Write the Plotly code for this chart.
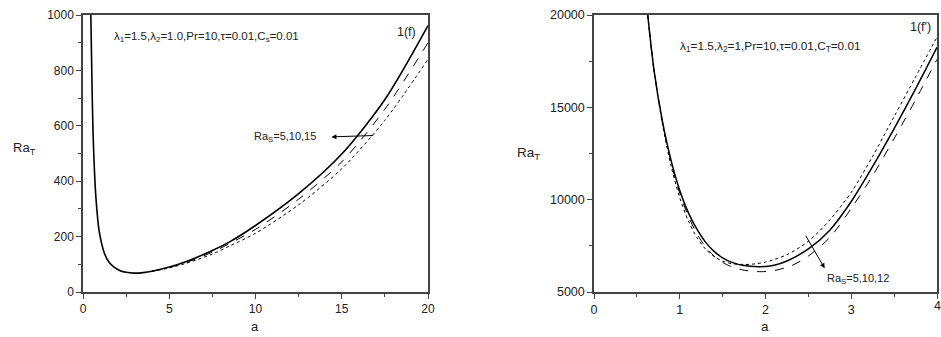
import plotly.graph_objects as go

# ---------------- Left panel data (1(f)) ----------------
a_left_common = [0.44, 0.5, 0.58, 0.75, 0.95, 1.24, 1.5, 1.78, 2.16, 2.5, 2.94, 3.5, 4.0]
ra_left_common = [1050, 830, 580, 340, 215, 140, 108, 91, 77, 71, 68, 70, 75]
a_left_tail = [5.0, 6.0, 7.5, 8.5, 10.0, 12.5, 15.0, 17.5, 20.0]
ra_left_s5 = [90, 110, 150, 181, 240, 355, 498, 695, 962]
ra_left_s10 = [89, 107, 144, 175, 226, 335, 470, 660, 900]
ra_left_s15 = [87, 104, 137, 166, 212, 315, 445, 620, 840]

# ---------------- Right panel data (1(f')) ----------------
a_r_s5 = [0.62, 0.7, 0.8, 0.9, 1.0, 1.1, 1.2, 1.3, 1.4, 1.5, 1.6, 1.75, 1.93, 2.1, 2.25, 2.5, 2.75, 3.0, 3.25, 3.5, 3.75, 4.0]
ra_r_s5 = [20300, 17000, 14200, 12100, 10500, 9300, 8400, 7700, 7200, 6850, 6620, 6430, 6370, 6450, 6680, 7330, 8350, 9900, 11800, 13850, 16000, 18250]
a_r_s10 = [0.62, 0.7, 0.8, 0.9, 1.0, 1.1, 1.2, 1.3, 1.4, 1.5, 1.6, 1.75, 1.95, 2.1, 2.3, 2.5, 2.75, 3.0, 3.25, 3.5, 3.75, 4.0]
ra_r_s10 = [20300, 17000, 14150, 12000, 10350, 9100, 8150, 7450, 6950, 6600, 6380, 6180, 6100, 6160, 6420, 6950, 7950, 9530, 11300, 13310, 15400, 17600]
a_r_s12 = [0.62, 0.7, 0.8, 0.9, 1.0, 1.1, 1.2, 1.3, 1.4, 1.5, 1.6, 1.75, 1.85, 2.0, 2.25, 2.5, 2.75, 3.0, 3.25, 3.5, 3.75, 4.0]
ra_r_s12 = [20300, 17000, 14050, 11800, 10100, 8850, 7950, 7330, 6920, 6670, 6540, 6490, 6510, 6620, 7020, 7750, 8900, 10400, 12350, 14500, 16650, 18800]

left_xticks = [0, 5, 10, 15, 20]
left_yticks = [0, 200, 400, 600, 800, 1000]
right_xticks = [0, 1, 2, 3, 4]
right_xlabels = ["0", "1", "2", "3", "4"]
right_yticks = [5000, 10000, 15000, 20000]

FONT = "Liberation Sans, Arial, sans-serif"
AX = "#444444"

# figure fills the whole window (body margin removed in post_script)
W, H, OFF = 941, 337, 0
def px(x):
    return (x - OFF) / W
def py(y):
    return 1 - (y - OFF) / H

fig = go.Figure()

def add(x, y, dash, width, xa, ya):
    fig.add_trace(go.Scatter(x=x, y=y, mode="lines", xaxis=xa, yaxis=ya,
                             line=dict(color="black", width=width, dash=dash, shape="spline", smoothing=0.8),
                             showlegend=False, hoverinfo="skip"))

add(a_left_common[-1:] + a_left_tail, ra_left_common[-1:] + ra_left_s15, "dot", 1, "x", "y")
add(a_left_common[-1:] + a_left_tail, ra_left_common[-1:] + ra_left_s10, "dash", 1, "x", "y")
add(a_left_common + a_left_tail, ra_left_common + ra_left_s5, "solid", 1.6, "x", "y")

add(a_r_s12, ra_r_s12, "dot", 1, "x2", "y2")
add(a_r_s10, ra_r_s10, "dash", 1, "x2", "y2")
add(a_r_s5, ra_r_s5, "solid", 1.5, "x2", "y2")

def axis(domain, rng, ticks, dtick_minor, anchor, fs, labels=None):
    d = dict(domain=domain, range=rng, tickvals=ticks, ticks="outside", ticklen=5,
             tickwidth=1, tickcolor=AX, showline=True, linecolor=AX, linewidth=1.5,
             mirror=True, showgrid=False, zeroline=False, anchor=anchor, automargin=False,
             ticklabeloverflow="allow",
             tickformat="d", tickfont=dict(family=FONT, size=fs, color="#222222"),
             minor=dict(ticks="outside", ticklen=3, dtick=dtick_minor, tickcolor=AX, showgrid=False))
    if labels is not None:
        d["ticktext"] = labels
    return d

yd = [py(292), py(15)]
fig.update_layout(
    width=W, height=H, margin=dict(l=0, r=0, t=0, b=0, autoexpand=False),
    plot_bgcolor="white", paper_bgcolor="white",
    xaxis=axis([px(83), px(428)], [0, 20], left_xticks, 2.5, "y", 12),
    yaxis=axis(yd, [0, 1000], left_yticks, 100, "x", 12),
    # last label of the right x axis is written as an annotation below (plotly hides it at the div edge)
    xaxis2=axis([px(594), px(937)], [0, 4], right_xticks, 0.5, "y2", 12.5,
                labels=right_xlabels[:-1] + [""]),
    yaxis2=axis(yd, [5000, 20000], right_yticks, 2500, "x2", 12.5),
)

ann = []
def txt(x, y, s, size, xanchor="left"):
    ann.append(dict(x=px(x), y=py(y), xref="paper", yref="paper", text=s, showarrow=False,
                    xanchor=xanchor, yanchor="middle", font=dict(family=FONT, size=size, color="#222222")))

# last tick label of the right x axis
ann.append(dict(x=right_xticks[-1], y=py(306), xref="x2", yref="paper", text=right_xlabels[-1],
                showarrow=False, xanchor="center", yanchor="middle",
                font=dict(family=FONT, size=12.5, color="#222222")))

# axis titles
txt(24, 148, "Ra<sub>T</sub>", 13, "center")
txt(255, 326, "a", 13, "center")
txt(528, 153, "Ra<sub>T</sub>", 13.5, "center")
txt(765, 326, "a", 13.5, "center")

# in-plot labels
txt(112, 37, "λ<sub>1</sub>=1.5,λ<sub>2</sub>=1.0,Pr=10,τ=0.01,C<sub>s</sub>=0.01", 11.5)
txt(418, 32, "1(f)", 12.5, "right")
txt(252, 137, "Ra<sub>S</sub>=5,10,15", 11)
txt(678, 46, "λ<sub>1</sub>=1.5,λ<sub>2</sub>=1,Pr=10,τ=0.01,C<sub>T</sub>=0.01", 11.8)
txt(933, 27, "1(f')", 12.5, "right")
txt(825, 279, "Ra<sub>S</sub>=5,10,12", 11)

# arrows
ann.append(dict(x=14.4, y=560, ax=16.9, ay=565, xref="x", yref="y", axref="x", ayref="y",
                showarrow=True, arrowhead=2, arrowsize=1, arrowwidth=1, arrowcolor="black", text=""))
ann.append(dict(x=2.69, y=6280, ax=2.46, ay=8120, xref="x2", yref="y2", axref="x2", ayref="y2",
                showarrow=True, arrowhead=2, arrowsize=1, arrowwidth=1, arrowcolor="black", text=""))

fig.update_layout(annotations=ann)
fig.write_html("out.html", config={"displayModeBar": False},
               post_script="document.body.style.margin='0px';document.body.style.overflow='hidden';")
